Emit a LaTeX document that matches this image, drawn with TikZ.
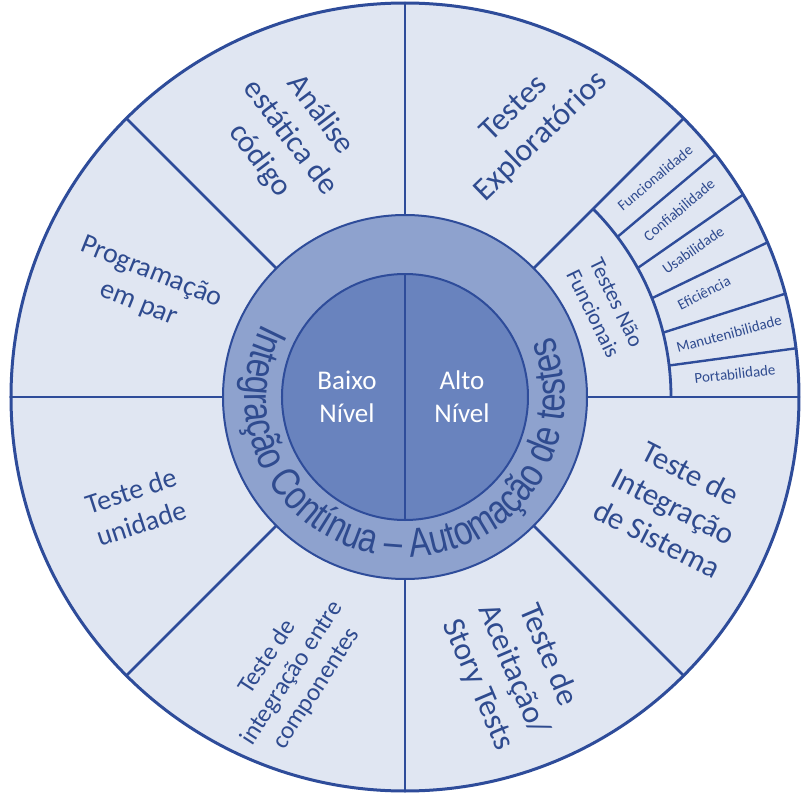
\documentclass[tikz,border=0pt]{standalone}
\usepackage{fontspec}
\setmainfont{Carlito}
\newfontfamily\ringfont[FakeStretch=0.8]{Liberation Sans}
\usetikzlibrary{decorations.text}
\definecolor{bgblue}{HTML}{E0E6F2}
\definecolor{ringblue}{HTML}{8EA2CE}
\definecolor{coreblue}{HTML}{6983BE}
\definecolor{lineblue}{HTML}{2E4C9A}
\definecolor{textblue}{HTML}{2F4B8F}
\tikzset{
  spoke/.style={draw=lineblue, line width=2.8pt},
  subline/.style={draw=lineblue, line width=2.4pt},
  sublbl/.style={text=textblue, font=\fontsize{15}{18}\selectfont, inner sep=0pt},
  seclbl/.style={text=textblue, align=center, inner sep=0pt},
  corelbl/.style={text=white, align=center, inner sep=0pt, font=\fontsize{27}{33}\selectfont},
}
\begin{document}
\begin{tikzpicture}[x=1pt,y=1pt]
\useasboundingbox (-405,-399) rectangle (402,397);
\fill[white] (-405,-399) rectangle (402,397);
% outer disc
\filldraw[fill=bgblue, draw=lineblue, line width=3pt] (0,0) circle[radius=394];
% spokes
\foreach \a in {0,45,...,315} \draw[spoke] (\a:182) -- (\a:394);
% non-functional sub-sector
\draw[spoke] (0:266) arc[start angle=0,end angle=45,radius=266];
\foreach \i/\o in {6.8/7.1, 14/15.2, 21.8/23.1, 29/30.9, 37/38}
  \draw[subline] (\i:266) -- (\o:394);
% ring and core
\filldraw[fill=ringblue, draw=lineblue, line width=2pt] (0,0) circle[radius=182];
\filldraw[fill=coreblue, draw=lineblue, line width=2pt] (0,0) circle[radius=123];
\draw[lineblue, line width=2pt] (90:123) -- (270:123);
% ring text
\path[decorate, decoration={text along path,
   text={|\ringfont\fontsize{41}{41}\selectfont\color{textblue}|Integração Contínua – Automação de testes},
   text align=center}]
   (145:160) arc[start angle=145, end angle=390, radius=160];
% core labels
\node[corelbl] (baixo) at (-58,0) {Baixo\\Nível};
\node[corelbl] (alto) at (57,0) {Alto\\Nível};
% sector labels
\node[seclbl, rotate=-53, font=\fontsize{31}{38}\selectfont] (analise) at (-115,259) {Análise\\estática de\\código};
\node[seclbl, rotate=44, font=\fontsize{32}{39}\selectfont] (explor) at (123,274) {Testes\\Exploratórios};
\node[seclbl, rotate=-22, font=\fontsize{28}{34}\selectfont] (prog) at (-260,109) {Programação\\em par};
\node[seclbl, rotate=18, font=\fontsize{28}{34}\selectfont] (unid) at (-269,-110) {Teste de\\unidade};
\node[seclbl, rotate=57, font=\fontsize{25}{29}\selectfont] (comp) at (-113,-276) {Teste de\\integração entre\\componentes};
\node[seclbl, rotate=-67, font=\fontsize{32}{38}\selectfont] (aceit) at (108,-273) {Teste de\\Aceitação/\\Story Tests};
\node[seclbl, rotate=-27, font=\fontsize{31}{37}\selectfont] (sist) at (269,-109) {Teste de\\Integração\\de Sistema};
\node[seclbl, rotate=-64, font=\fontsize{22}{26}\selectfont] (naofunc) at (200,89) {Testes Não\\Funcionais};
% sub-items
\node[sublbl, rotate=40] (func) at (250,219) {Funcionalidade};
\node[sublbl, rotate=40] (conf) at (274,187) {Confiabilidade};
\node[sublbl, rotate=35] (usab) at (288,147) {Usabilidade};
\node[sublbl, rotate=27] (efic) at (299,104) {Eficiência};
\node[sublbl, rotate=15] (manut) at (324,63) {Manutenibilidade};
\node[sublbl, rotate=6.5] (port) at (330,23) {Portabilidade};
\end{tikzpicture}
\end{document}
